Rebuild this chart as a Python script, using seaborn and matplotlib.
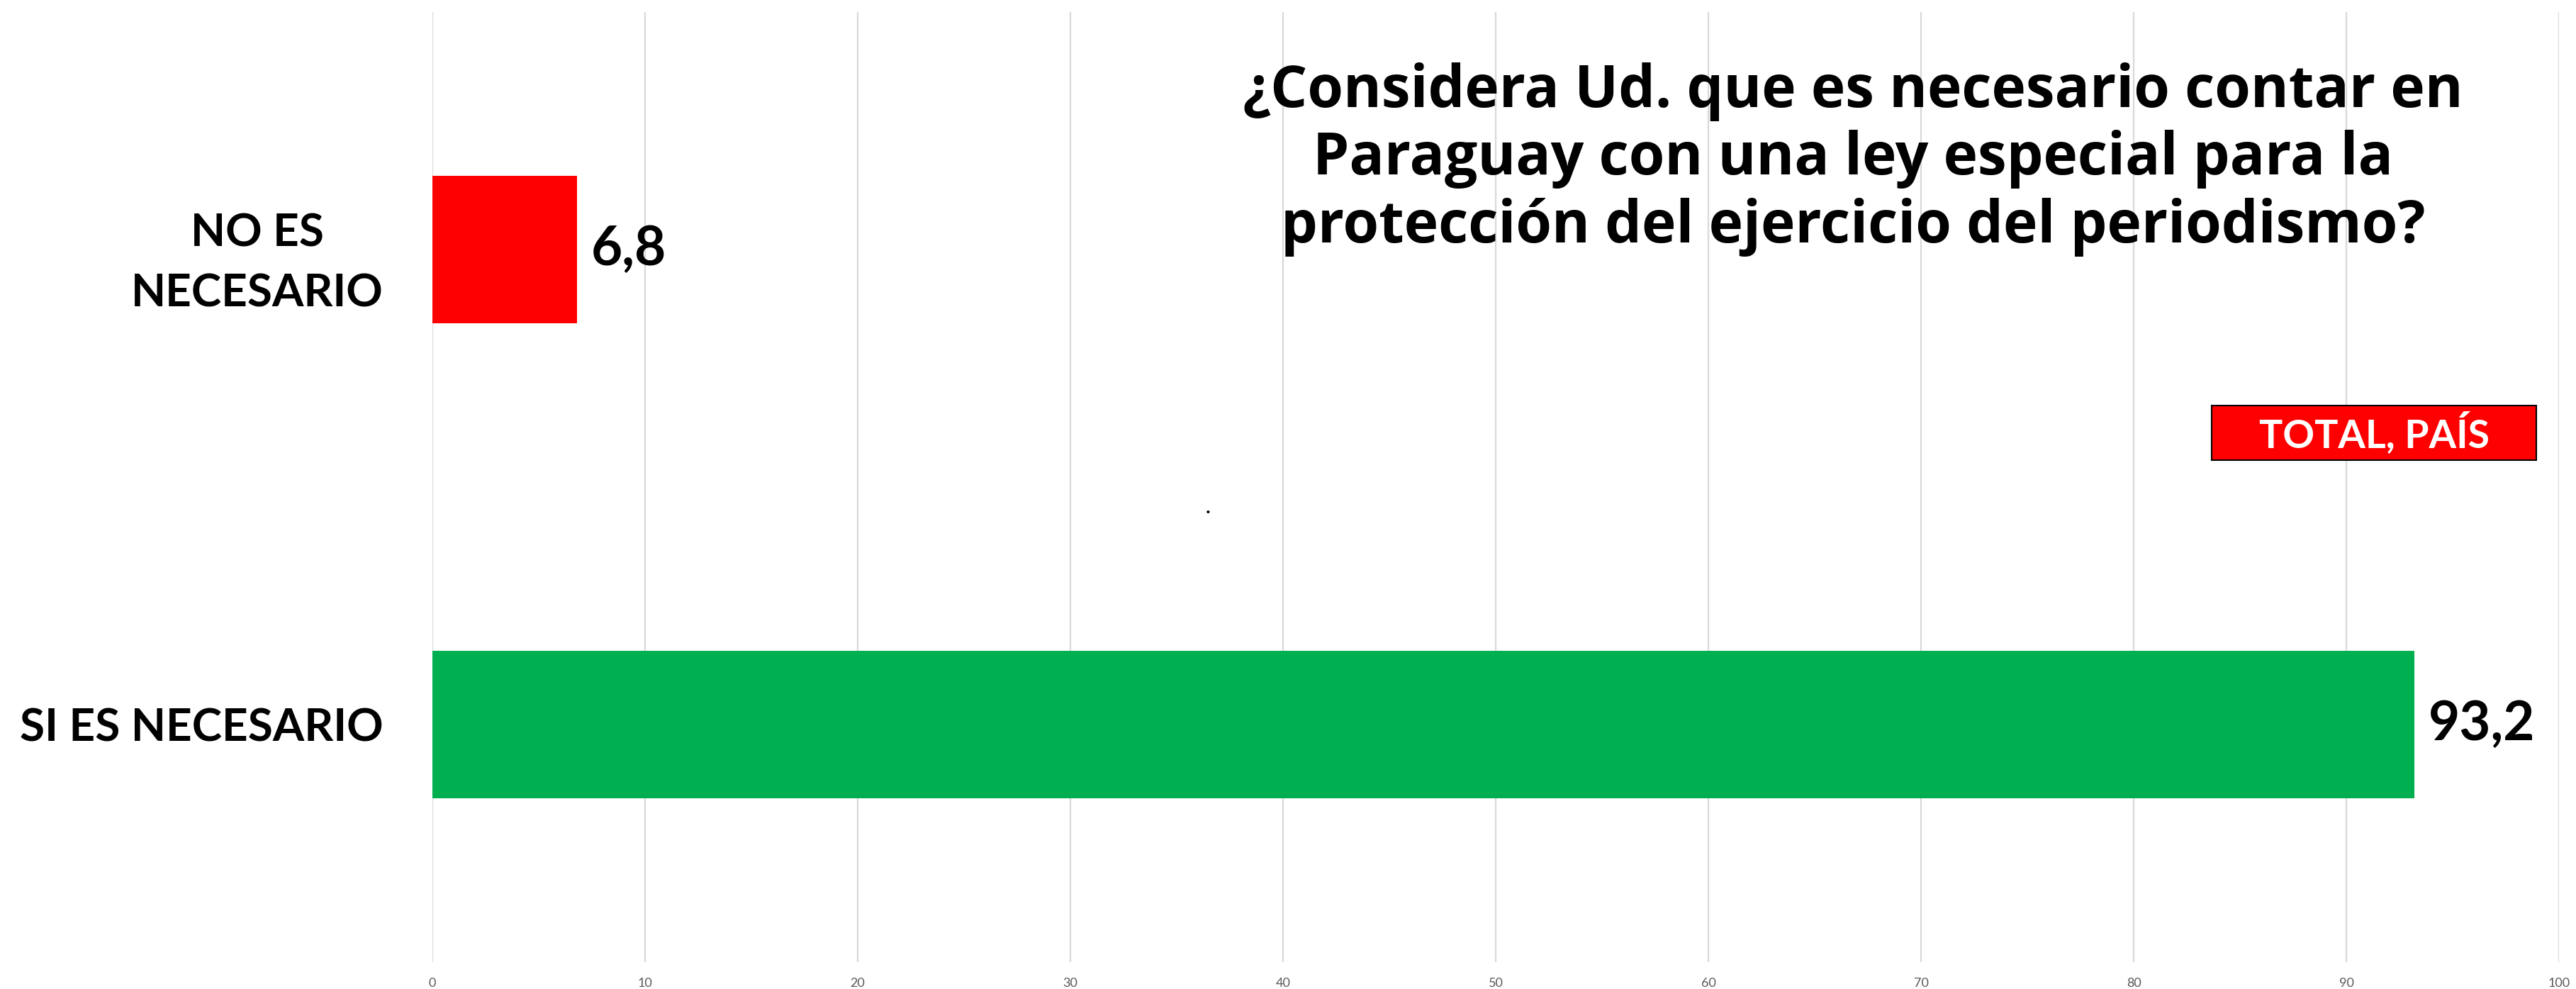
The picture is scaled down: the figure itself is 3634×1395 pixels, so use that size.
import matplotlib
matplotlib.use("Agg")
import matplotlib.pyplot as plt
import matplotlib.patches as mpatches
import seaborn as sns
import pandas as pd

# Survey responses (percent, total country)
categories = ["NO ES\nNECESARIO", "SI ES NECESARIO"]
values = [6.8, 93.2]
value_labels = ["6,8", "93,2"]
bar_colors = ["#FF0000", "#00B050"]
x_ticks = [0, 10, 20, 30, 40, 50, 60, 70, 80, 90, 100]
title = ("¿Considera Ud. que es necesario contar en\n"
         "Paraguay con una ley especial para la\n"
         "protección del ejercicio del periodismo?")
badge = "TOTAL, PAÍS"

df = pd.DataFrame({"categoria": categories, "porcentaje": values})

sns.set_theme(style="white")
plt.rcParams["font.family"] = ["Lato", "DejaVu Sans"]

W, H, DPI = 3634, 1395, 100
fig = plt.figure(figsize=(W / DPI, H / DPI), dpi=DPI)
ax = fig.add_axes([610 / W, 1 - 1357 / H, 3000 / W, (1357 - 17) / H])

sns.barplot(data=df, y="categoria", x="porcentaje", hue="categoria",
            palette=bar_colors, order=categories, hue_order=categories,
            width=0.31, legend=False, ax=ax, saturation=1, linewidth=0)

ax.set_xlim(0, 100)
ax.set_ylim(1.5, -0.5)
ax.set_xticks(x_ticks)
ax.set_xticklabels([str(t) for t in x_ticks], fontsize=13, color="#595959")
ax.tick_params(axis="x", length=0, pad=16)
ax.tick_params(axis="y", length=0, pad=50)
for lbl in ax.get_yticklabels():
    lbl.set_fontsize(46)
    lbl.set_fontweight("bold")
    lbl.set_color("black")
    lbl.set_multialignment("center")
    lbl.set_linespacing(1.6)
ax.set_xlabel("")
ax.set_ylabel("")
ax.xaxis.grid(True, color="#D9D9D9", linewidth=1.6)
ax.yaxis.grid(False)
ax.set_axisbelow(True)
for s in ax.spines.values():
    s.set_visible(False)

# value labels at bar ends
for i, (v, t) in enumerate(zip(values, value_labels)):
    ax.annotate(t, xy=(v, i), xytext=(14, 0), textcoords="offset points",
                ha="left", va="center", fontsize=55, fontweight="bold",
                color="black")

# question title
fig.text(2614 / W, 1 - 225 / H, title, ha="center", va="center",
         fontsize=59, fontweight="bold", color="black", linespacing=1.2,
         fontfamily=["Open Sans", "DejaVu Sans"])

# badge box and caption
bx0, bx1, by0, by1 = 3120, 3578, 572, 649
fig.patches.append(mpatches.Rectangle((bx0 / W, 1 - by1 / H), (bx1 - bx0) / W,
                                      (by1 - by0) / H, transform=fig.transFigure,
                                      facecolor="#FF0000", edgecolor="black",
                                      linewidth=1.5, zorder=3))
fig.text((bx0 + bx1) / 2 / W, 1 - (by0 + by1) / 2 / H, badge, ha="center",
         va="center", fontsize=40, fontweight="bold", color="white", zorder=4)

fig.text(1704 / W, 1 - 729 / H, ".", ha="center", va="bottom",
         fontsize=20, fontweight="bold", color="black")

fig.savefig("out.png", dpi=DPI, facecolor="white")
